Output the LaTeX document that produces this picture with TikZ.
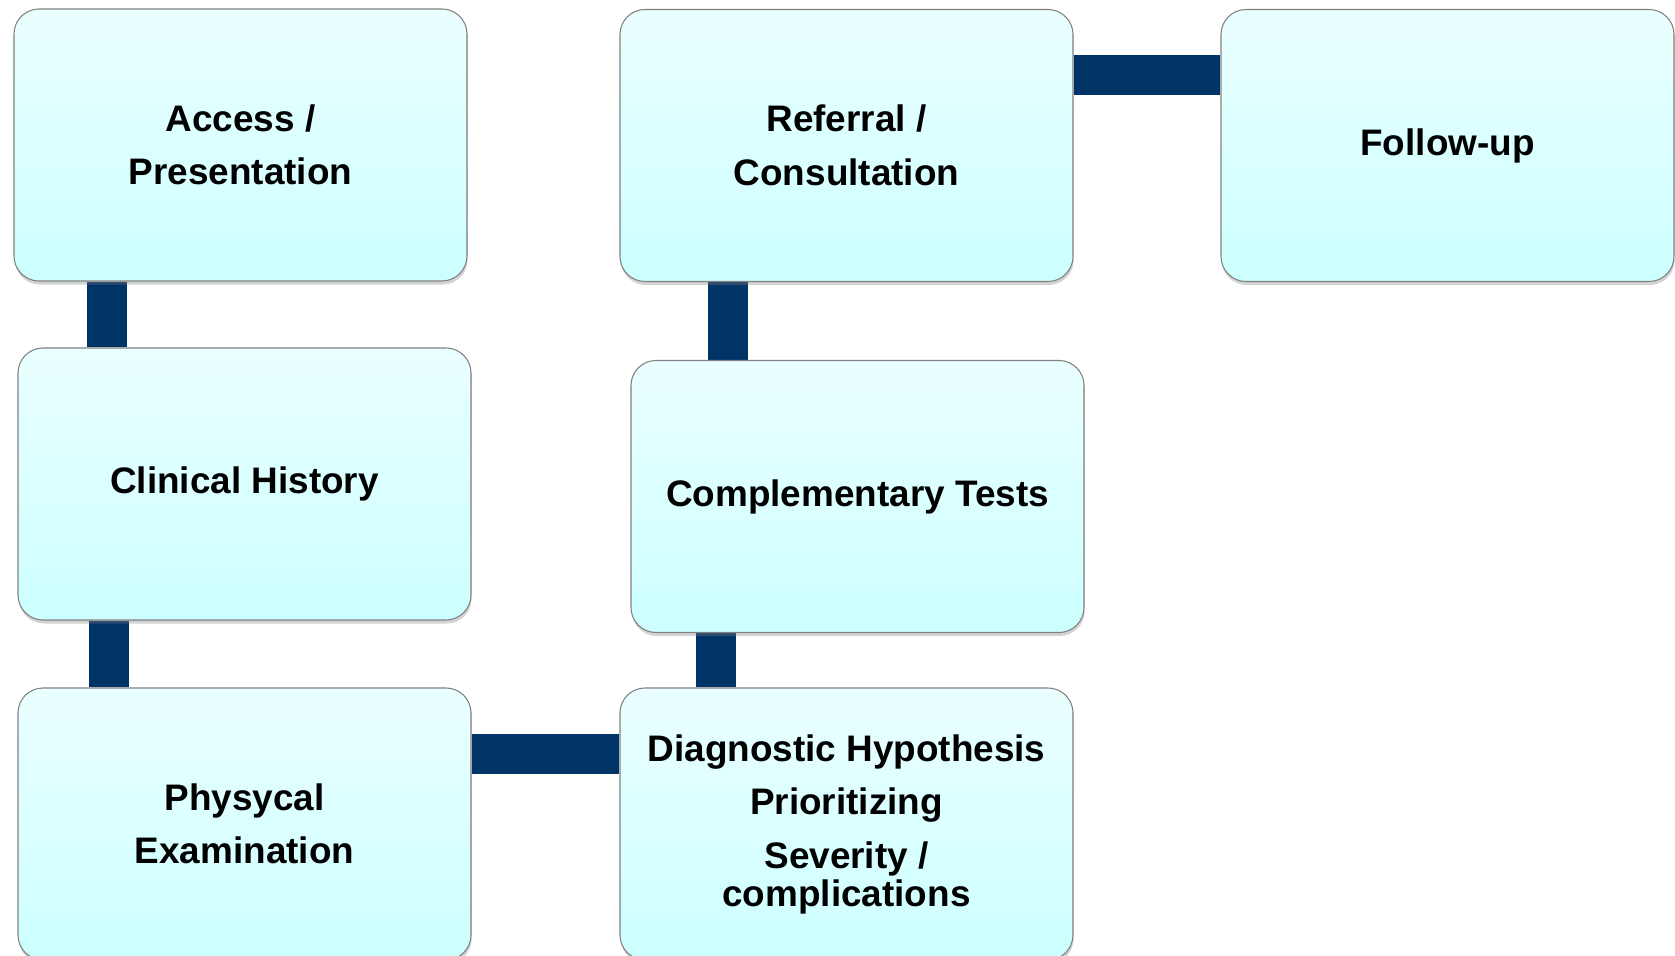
\documentclass[tikz,border=0pt]{standalone}
\usepackage{fontspec}
\setmainfont{Liberation Sans}
\usetikzlibrary{shadows,backgrounds}
\definecolor{navy}{RGB}{0,51,102}
\definecolor{boxtop}{RGB}{234,255,255}
\definecolor{boxbot}{RGB}{204,255,255}
\tikzset{
  box/.style={draw=gray,line width=0.6pt,rounded corners=0.5cm,top color=boxtop,bottom color=boxbot,
    minimum width=9.06cm,minimum height=5.44cm,inner sep=0pt,align=center,
    font=\fontsize{21}{30.5}\selectfont\bfseries,
    drop shadow={shadow xshift=0.4pt,shadow yshift=-2pt,opacity=0.35}},
  bar/.style={line width=0.8cm,draw=navy}
}
\begin{document}
\begin{tikzpicture}
        \useasboundingbox(0,0)rectangle(33.5,-19.12);
        \clip(0,0)rectangle(33.5,-19.12);
            \node[box](1)at(4.81,-2.90){Access /\\Presentation};
            \node[box](2)at(4.89,-9.68){Clinical History};
            \node[box](3)at(4.89,-16.48){Physycal\\Examination};
            \node[box](4)at(16.93,-2.91){Referral /\\Consultation};
            \node[box](5)at(17.15,-9.93){Complementary Tests};
            \node[box](6)at(16.93,-16.48){Diagnostic Hypothesis\\Prioritizing\\Severity /\\[-9pt]complications};
            \node[box](7)at(28.95,-2.91){Follow-up};
            \begin{scope}[on background layer]
            \draw[bar]([xshift=1.88cm]1.south west)--([xshift=1.88cm]1.south west|-2.north);
            \draw[bar]([xshift=1.84cm]2.south west)--([xshift=1.84cm]2.south west|-3.north);
            \draw[bar]([yshift=-1.34cm]3.north east)--([yshift=-1.34cm]3.north east-|6.west);
            \draw[bar]([xshift=1.94cm]6.north west)--([xshift=1.94cm]6.north west|-5.south);
            \draw[bar]([xshift=2.17cm]4.south west)--([xshift=2.17cm]4.south west|-5.north);
            \draw[bar]([yshift=-1.32cm]4.north east)--([yshift=-1.32cm]4.north east-|7.west);
            \end{scope}
        \end{tikzpicture}
\end{document}
